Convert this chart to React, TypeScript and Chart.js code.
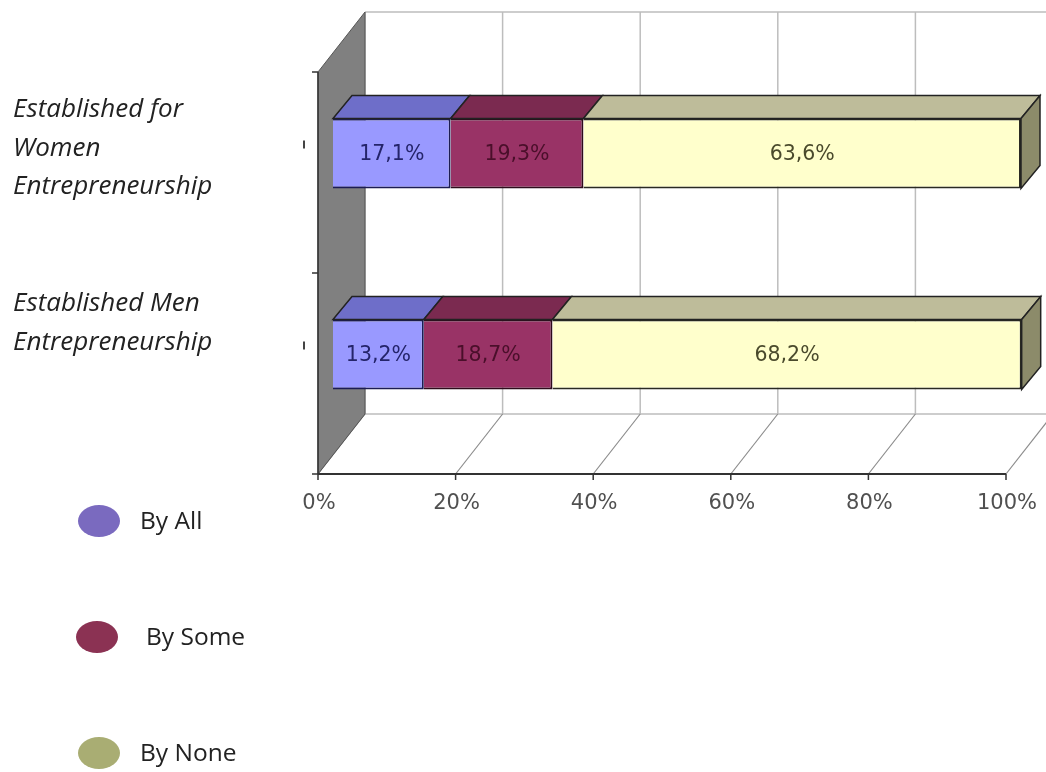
import React, { useEffect, useRef } from "react";
import { Chart, registerables } from "chart.js";

Chart.register(...registerables);

// ---- data ----
const categories: string[][] = [
  ["Established for", "Women", "Entrepreneurship"],
  ["Established Men", "Entrepreneurship"],
];
const seriesNames = ["By All", "By Some", "By None"];
const byAll = [17.1, 13.2];
const bySome = [19.3, 18.7];
const byNone = [63.6, 68.2];
const xTicks = [0, 20, 40, 60, 80, 100];
const xTickLabels = ["0%", "20%", "40%", "60%", "80%", "100%"];

// ---- styles ----
const frontColors = ["#9999ff", "#993366", "#ffffcc"];
const topColors = ["#6e6ec9", "#7b2a50", "#bebc9a"];
const sideColors = ["#5a5aa8", "#5e1f3c", "#8c8b6a"];
const borderColors = ["#1c1c55", "#2e0c1c", "#2a2a22"];
const labelColors = ["#24246a", "#4a0f2a", "#4a4a2c"];
const legendColors = ["#7a6abf", "#8b3253", "#a9ad73"];

// 3D geometry (pixel offsets relative to the bar front plane)
const BAR_TO_FRONT = { dx: -15, dy: 19 };
const BAR_TO_BACK = { dx: 32, dy: -41 };
const BAR_DEPTH = { dx: 19, dy: -23 };
const CAT_LABEL_TOP = [110, 304];
const CAT_LINE_H = 38.5;
const LEGEND_POS = [
  { cx: 99, cy: 521, tx: 140 },
  { cx: 97, cy: 637, tx: 146 },
  { cx: 99, cy: 753, tx: 140 },
];

const fmt = (v: number) => v.toFixed(1).replace(".", ",") + "%";

const threeD = {
  id: "threeD",
  beforeDatasetsDraw(chart: any) {
    const ctx = chart.ctx;
    const xs = chart.scales.x;
    const area = chart.chartArea;
    const backTop = area.top + BAR_TO_BACK.dy;
    const backBottom = area.bottom + BAR_TO_BACK.dy;
    const frontTop = area.top + BAR_TO_FRONT.dy;
    const frontBottom = area.bottom + BAR_TO_FRONT.dy;
    const x0 = xs.getPixelForValue(0);
    const x100 = xs.getPixelForValue(100);
    ctx.save();
    // back wall grid
    ctx.strokeStyle = "#bdbdbd";
    ctx.lineWidth = 1.5;
    xTicks.forEach((v) => {
      const xb = xs.getPixelForValue(v) + BAR_TO_BACK.dx;
      ctx.beginPath();
      ctx.moveTo(xb, backTop);
      ctx.lineTo(xb, backBottom);
      ctx.stroke();
    });
    ctx.beginPath();
    ctx.moveTo(x0 + BAR_TO_BACK.dx, backTop);
    ctx.lineTo(x100 + BAR_TO_BACK.dx, backTop);
    ctx.stroke();
    ctx.beginPath();
    ctx.moveTo(x0 + BAR_TO_BACK.dx, backBottom);
    ctx.lineTo(x100 + BAR_TO_BACK.dx, backBottom);
    ctx.stroke();
    // floor diagonals
    ctx.strokeStyle = "#8c8c8c";
    ctx.lineWidth = 1.2;
    xTicks.forEach((v) => {
      const xp = xs.getPixelForValue(v);
      ctx.beginPath();
      ctx.moveTo(xp + BAR_TO_FRONT.dx, frontBottom);
      ctx.lineTo(xp + BAR_TO_BACK.dx, backBottom);
      ctx.stroke();
    });
    // left wall
    ctx.fillStyle = "#808080";
    ctx.strokeStyle = "#555555";
    ctx.lineWidth = 1;
    ctx.beginPath();
    ctx.moveTo(x0 + BAR_TO_FRONT.dx, frontTop);
    ctx.lineTo(x0 + BAR_TO_BACK.dx, backTop);
    ctx.lineTo(x0 + BAR_TO_BACK.dx, backBottom);
    ctx.lineTo(x0 + BAR_TO_FRONT.dx, frontBottom);
    ctx.closePath();
    ctx.fill();
    ctx.stroke();
    // front floor axis line + ticks
    ctx.strokeStyle = "#333333";
    ctx.lineWidth = 2;
    ctx.beginPath();
    ctx.moveTo(x0 + BAR_TO_FRONT.dx, frontBottom);
    ctx.lineTo(x100 + BAR_TO_FRONT.dx, frontBottom);
    ctx.stroke();
    ctx.lineWidth = 1.5;
    xTicks.forEach((v) => {
      const xf = xs.getPixelForValue(v) + BAR_TO_FRONT.dx;
      ctx.beginPath();
      ctx.moveTo(xf, frontBottom);
      ctx.lineTo(xf, frontBottom + 6);
      ctx.stroke();
    });
    // left axis line + ticks
    const xl = x0 + BAR_TO_FRONT.dx;
    ctx.beginPath();
    ctx.moveTo(xl, frontTop);
    ctx.lineTo(xl, frontBottom);
    ctx.stroke();
    const n = categories.length;
    for (let i = 0; i <= n; i++) {
      const yy = frontTop + (i * (frontBottom - frontTop)) / n;
      ctx.beginPath();
      ctx.moveTo(xl - 6, yy);
      ctx.lineTo(xl, yy);
      ctx.stroke();
    }
    // tiny clipped tick-label marks
    const ys = chart.scales.y;
    ctx.fillStyle = "#444";
    categories.forEach((_, i) => {
      const yc = ys.getPixelForValue(i) + BAR_TO_FRONT.dy - 28;
      ctx.fillRect(xl - 15, yc - 4, 2, 8);
    });
    ctx.restore();
  },
  afterDatasetsDraw(chart: any) {
    const ctx = chart.ctx;
    const xs = chart.scales.x;
    const area = chart.chartArea;
    const nds = chart.data.datasets.length;
    ctx.save();
    chart.data.datasets.forEach((ds: any, i: number) => {
      const meta = chart.getDatasetMeta(i);
      meta.data.forEach((el: any, j: number) => {
        const p = el.getProps(["x", "y", "base", "height"], true);
        const left = Math.min(p.x, p.base);
        const right = Math.max(p.x, p.base);
        const yt = p.y - p.height / 2;
        const yb = p.y + p.height / 2;
        ctx.lineWidth = 1.5;
        ctx.strokeStyle = "#222222";
        ctx.fillStyle = topColors[i];
        ctx.beginPath();
        ctx.moveTo(left, yt);
        ctx.lineTo(right, yt);
        ctx.lineTo(right + BAR_DEPTH.dx, yt + BAR_DEPTH.dy);
        ctx.lineTo(left + BAR_DEPTH.dx, yt + BAR_DEPTH.dy);
        ctx.closePath();
        ctx.fill();
        ctx.stroke();
        if (i === nds - 1) {
          ctx.fillStyle = sideColors[i];
          ctx.beginPath();
          ctx.moveTo(right, yt);
          ctx.lineTo(right + BAR_DEPTH.dx, yt + BAR_DEPTH.dy);
          ctx.lineTo(right + BAR_DEPTH.dx, yb + BAR_DEPTH.dy);
          ctx.lineTo(right, yb);
          ctx.closePath();
          ctx.fill();
          ctx.stroke();
        }
        ctx.fillStyle = labelColors[i];
        ctx.font = "20.5px 'DejaVu Sans'";
        ctx.textAlign = "center";
        ctx.textBaseline = "middle";
        ctx.fillText(fmt(ds.data[j]), (left + right) / 2, p.y + 1);
      });
    });
    // x tick labels
    const frontBottom = area.bottom + BAR_TO_FRONT.dy;
    ctx.fillStyle = "#505050";
    ctx.font = "21px 'DejaVu Sans'";
    ctx.textAlign = "center";
    ctx.textBaseline = "middle";
    xTicks.forEach((v, k) => {
      const xf = xs.getPixelForValue(v) + BAR_TO_FRONT.dx;
      ctx.fillText(xTickLabels[k], xf + 1, frontBottom + 30);
    });
    // category labels
    ctx.fillStyle = "#222222";
    ctx.font = "italic 26px 'Open Sans'";
    ctx.textAlign = "left";
    categories.forEach((lines, i) => {
      lines.forEach((ln, k) => {
        ctx.fillText(ln, 13, CAT_LABEL_TOP[i] + k * CAT_LINE_H);
      });
    });
    // legend
    ctx.font = "24.5px 'Open Sans'";
    seriesNames.forEach((name, i) => {
      const lp = LEGEND_POS[i];
      ctx.fillStyle = legendColors[i];
      ctx.beginPath();
      ctx.ellipse(lp.cx, lp.cy, 21, 16, 0, 0, Math.PI * 2);
      ctx.fill();
      ctx.fillStyle = "#222222";
      ctx.fillText(name, lp.tx, lp.cy + 1);
    });
    ctx.restore();
  },
};

export default function App() {
  const ref = useRef<HTMLCanvasElement | null>(null);
  useEffect(() => {
    if (!ref.current) return;
    const values = [byAll, bySome, byNone];
    const chart = new Chart(ref.current, {
      type: "bar",
      data: {
        labels: categories.map((c) => c.join(" ")),
        datasets: seriesNames.map((name, i) => ({
          label: name,
          data: values[i],
          backgroundColor: frontColors[i],
          borderColor: borderColors[i],
          borderWidth: 2,
          barPercentage: 0.348,
          categoryPercentage: 1,
        })),
      },
      options: {
        indexAxis: "y",
        responsive: false,
        animation: false,
        devicePixelRatio: 1,
        layout: { padding: { left: 333, right: 25, top: 53, bottom: 317 } },
        scales: {
          x: { stacked: true, min: 0, max: 100, display: false },
          y: { stacked: true, display: false },
        },
        plugins: {
          legend: { display: false },
          tooltip: { enabled: false },
        },
      },
      plugins: [threeD],
    } as any);
    return () => chart.destroy();
  }, []);
  return (
    <div style={{ position: "absolute", left: 0, top: 0, width: 1046, height: 772, background: "#fff" }}>
      <canvas ref={ref} width={1046} height={772} />
    </div>
  );
}
